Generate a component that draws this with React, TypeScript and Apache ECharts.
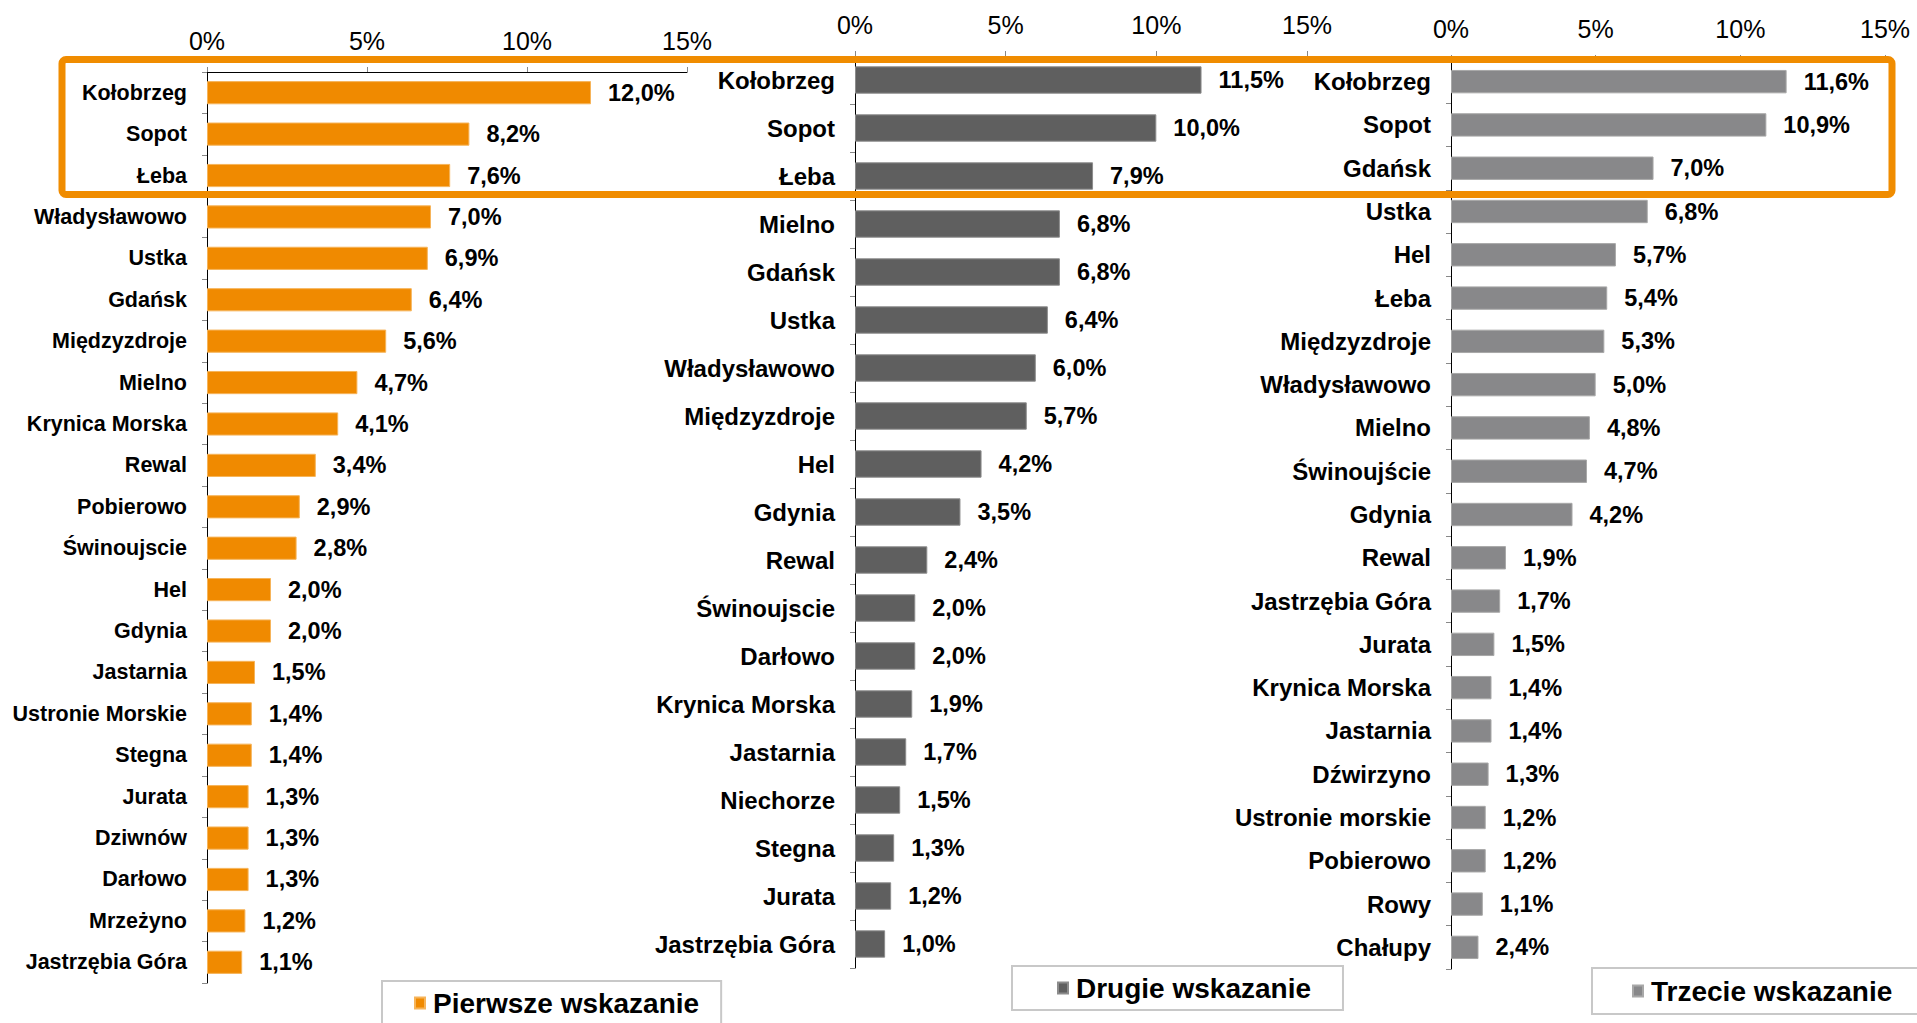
import React, { useEffect, useRef } from "react";
import * as echarts from "echarts";

const cats1 = ["Kołobrzeg", "Sopot", "Łeba", "Władysławowo", "Ustka", "Gdańsk", "Międzyzdroje", "Mielno", "Krynica Morska", "Rewal", "Pobierowo", "Świnoujscie", "Hel", "Gdynia", "Jastarnia", "Ustronie Morskie", "Stegna", "Jurata", "Dziwnów", "Darłowo", "Mrzeżyno", "Jastrzębia Góra"];
const vals1 = [12.0, 8.2, 7.6, 7.0, 6.9, 6.4, 5.6, 4.7, 4.1, 3.4, 2.9, 2.8, 2.0, 2.0, 1.5, 1.4, 1.4, 1.3, 1.3, 1.3, 1.2, 1.1];

const cats2 = ["Kołobrzeg", "Sopot", "Łeba", "Mielno", "Gdańsk", "Ustka", "Władysławowo", "Międzyzdroje", "Hel", "Gdynia", "Rewal", "Świnoujscie", "Darłowo", "Krynica Morska", "Jastarnia", "Niechorze", "Stegna", "Jurata", "Jastrzębia Góra"];
const vals2 = [11.5, 10.0, 7.9, 6.8, 6.8, 6.4, 6.0, 5.7, 4.2, 3.5, 2.4, 2.0, 2.0, 1.9, 1.7, 1.5, 1.3, 1.2, 1.0];

const cats3 = ["Kołobrzeg", "Sopot", "Gdańsk", "Ustka", "Hel", "Łeba", "Międzyzdroje", "Władysławowo", "Mielno", "Świnoujście", "Gdynia", "Rewal", "Jastrzębia Góra", "Jurata", "Krynica Morska", "Jastarnia", "Dźwirzyno", "Ustronie morskie", "Pobierowo", "Rowy", "Chałupy"];
const vals3 = [11.6, 10.9, 7.0, 6.8, 5.7, 5.4, 5.3, 5.0, 4.8, 4.7, 4.2, 1.9, 1.7, 1.5, 1.4, 1.4, 1.3, 1.2, 1.2, 1.1, 0.95];
// label printed in the source differs from the drawn bar for this one category
const labelOverride3: Record<string, string> = { "Chałupy": "2,4%" };

const seriesNames = ["Pierwsze wskazanie", "Drugie wskazanie", "Trzecie wskazanie"];
const xTicks = [0, 5, 10, 15];

const FONT = '"Liberation Sans", Arial, Helvetica, sans-serif';

export default function App() {
  const ref = useRef<HTMLDivElement>(null);

  useEffect(() => {
    if (!ref.current) return;
    const chart = echarts.init(ref.current, null, { renderer: "svg" });

    const panels = [
      { cats: cats1, vals: vals1, color: "#F08A00", border: "#F6B45A", grid: { left: 207, top: 72, width: 480, height: 911 }, catFont: 21.5, barWidth: "56%", override: {} as Record<string, string> },
      { cats: cats2, vals: vals2, color: "#5F5F5F", border: "#8C8C8C", grid: { left: 855, top: 56, width: 452, height: 912 }, catFont: 24, barWidth: "57%", override: {} as Record<string, string> },
      { cats: cats3, vals: vals3, color: "#88888A", border: "#A8A8A8", grid: { left: 1451, top: 60, width: 434, height: 909 }, catFont: 24, barWidth: "54%", override: labelOverride3 },
    ];

    const fmt = (v: number) => v.toFixed(1).replace(".", ",") + "%";

    const option: any = {
      animation: false,
      backgroundColor: "#ffffff",
      textStyle: { fontFamily: FONT },
      grid: panels.map((p) => ({ ...p.grid, containLabel: false })),
      xAxis: panels.map((p, i) => ({
        type: "value",
        gridIndex: i,
        position: "top",
        min: xTicks[0],
        max: xTicks[xTicks.length - 1],
        interval: xTicks[1] - xTicks[0],
        axisLine: { show: true, lineStyle: { color: "#000000", width: 1 } },
        axisTick: { show: true, length: 5, lineStyle: { color: "#888888" } },
        splitLine: { show: false },
        axisLabel: { fontSize: 25, color: "#000000", fontFamily: FONT, margin: 19, formatter: "{value}%" },
      })),
      yAxis: panels.map((p, i) => ({
        type: "category",
        gridIndex: i,
        inverse: true,
        data: p.cats,
        axisLine: { show: true, lineStyle: { color: "#000000", width: 1 } },
        axisTick: { show: true, length: 5, lineStyle: { color: "#888888" } },
        splitLine: { show: false },
        axisLabel: { fontSize: p.catFont, fontWeight: "bold", color: "#000000", fontFamily: FONT, margin: 20 },
      })),
      legend: [
        { data: [seriesNames[0]], left: 382, top: 981, padding: [8, 22, 8, 32] },
        { data: [seriesNames[1]], left: 1012, top: 966, padding: [8, 32, 8, 45] },
        { data: [seriesNames[2]], left: 1592, top: 968, padding: [9, 60, 9, 40] },
      ].map((l) => ({
        ...l,
        orient: "horizontal",
        icon: "rect",
        itemWidth: 10,
        itemHeight: 11,
        borderColor: "#C8C8C8",
        borderWidth: 2,
        backgroundColor: "#ffffff",
        textStyle: { fontSize: 28, fontWeight: "bold", color: "#000000", fontFamily: FONT, padding: [0, 0, 0, 3] },
        selectedMode: false,
      })),
      series: panels.map((p, i) => ({
        type: "bar",
        name: seriesNames[i],
        xAxisIndex: i,
        yAxisIndex: i,
        data: p.vals,
        barWidth: p.barWidth,
        itemStyle: { color: p.color, borderColor: p.border, borderWidth: 1 },
        label: {
          show: true,
          position: "right",
          distance: 17,
          fontSize: 23.5,
          fontWeight: "bold",
          color: "#000000",
          fontFamily: FONT,
          formatter: (params: any) => p.override[p.cats[params.dataIndex]] ?? fmt(params.value),
        },
      })),
      graphic: [
        {
          type: "rect",
          z: 100,
          silent: true,
          shape: { x: 62, y: 59.5, width: 1830, height: 135, r: 4 },
          style: { fill: "transparent", stroke: "#F08C00", lineWidth: 7 },
        },
      ],
    };

    chart.setOption(option);
    return () => chart.dispose();
  }, []);

  return (
    <div
      ref={ref}
      style={{ position: "absolute", left: 0, top: 0, width: 1917, height: 1023, overflow: "hidden" }}
    />
  );
}
